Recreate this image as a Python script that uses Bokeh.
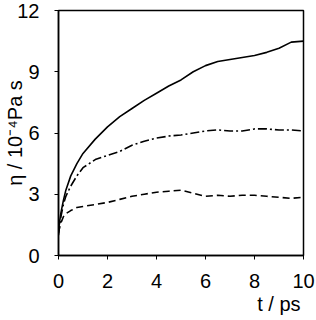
from bokeh.plotting import figure
from bokeh.models import Range1d, FixedTicker, Title
from bokeh.embed import file_html
from bokeh.resources import INLINE

t = [0, 0.05, 0.1, 0.2, 0.3, 0.5, 0.75, 1, 1.5, 2, 2.5, 3, 3.5, 4, 4.5, 5,
     5.5, 6, 6.5, 7, 7.5, 8, 8.5, 9, 9.5, 10]
eta_solid = [1.2, 1.7, 2.1, 2.7, 3.2, 3.9, 4.5, 5.0, 5.7, 6.3, 6.8, 7.2, 7.6,
             7.95, 8.3, 8.6, 9.0, 9.3, 9.5, 9.6, 9.7, 9.8, 9.95, 10.15, 10.45, 10.5]
eta_dashdot = [1.0, 1.5, 1.9, 2.5, 2.9, 3.4, 3.9, 4.3, 4.7, 4.9, 5.1, 5.4, 5.6,
               5.75, 5.85, 5.9, 6.0, 6.1, 6.15, 6.1, 6.1, 6.2, 6.2, 6.15, 6.15, 6.1]
eta_dashed = [1.1, 1.4, 1.6, 1.9, 2.05, 2.2, 2.35, 2.4, 2.5, 2.6, 2.75, 2.9, 3.0,
              3.1, 3.15, 3.2, 3.05, 2.9, 2.95, 2.9, 2.95, 2.95, 2.9, 2.85, 2.8, 2.85]
x_ticks = [0, 2, 4, 6, 8, 10]
y_ticks = [0, 3, 6, 9, 12]
x_title = "t / ps"
y_title = "η / 10⁻⁴Pa s"

FONT = "Liberation Sans"
FS = "20px"

p = figure(width=316, height=320, output_backend="svg", toolbar_location=None,
           x_range=Range1d(0, 10), y_range=Range1d(0, 12),
           min_border_left=58, min_border_right=13, min_border_top=10,
           min_border_bottom=65)
p.background_fill_color = "white"
p.border_fill_color = "white"
p.outline_line_color = "black"
p.outline_line_width = 1.5
p.grid.visible = False

for ax in (p.xaxis, p.yaxis):
    ax.axis_line_width = 1.5
    ax.major_tick_line_width = 1
    ax.major_tick_out = 4
    ax.major_tick_in = 0
    ax.minor_tick_line_color = None
    ax.major_label_text_font = FONT
    ax.major_label_text_font_size = FS
    ax.major_label_text_color = "black"
    ax.axis_label_text_font = FONT
    ax.axis_label_text_font_size = FS
    ax.axis_label_text_font_style = "normal"
    ax.axis_label_text_color = "black"

p.xaxis.ticker = FixedTicker(ticks=x_ticks)
p.yaxis.ticker = FixedTicker(ticks=y_ticks)
p.xaxis.major_label_standoff = 14
p.yaxis.major_label_standoff = 15

p.xaxis.axis_label = None
p.yaxis.axis_label = y_title
p.yaxis.axis_label_standoff = -12

# x-axis title at the right end, below the tick labels
p.add_layout(Title(text=x_title, align="right", standoff=0, offset=3,
                   text_font=FONT, text_font_size=FS, text_font_style="normal",
                   text_color="black"), "below")

p.line(t, eta_solid, line_color="black", line_width=1.6)
p.line(t, eta_dashdot, line_color="black", line_width=1.6, line_dash="9 3 2 3")
p.line(t, eta_dashed, line_color="black", line_width=1.6, line_dash="7 4")

open("out.html", "w").write(file_html(p, INLINE))
